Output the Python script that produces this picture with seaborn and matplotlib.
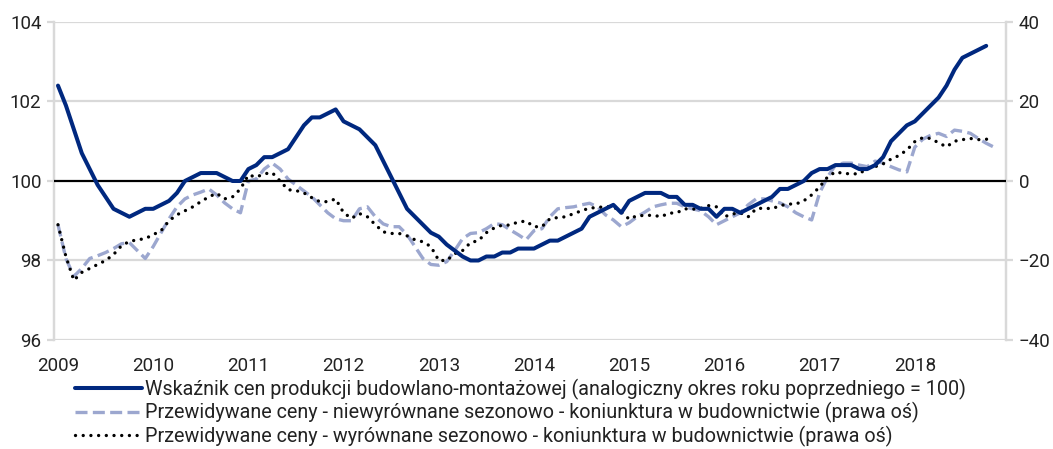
import numpy as np
import pandas as pd
import seaborn as sns
import matplotlib.pyplot as plt
from matplotlib.lines import Line2D

# monthly data, Jan 2009 onwards
wskaznik = [
    102.4, 101.9, 101.3, 100.7, 100.3, 99.9, 99.6, 99.3, 99.2, 99.1, 99.2, 99.3,
    99.3, 99.4, 99.5, 99.7, 100.0, 100.1, 100.2, 100.2, 100.2, 100.1, 100.0, 100.0,
    100.3, 100.4, 100.6, 100.6, 100.7, 100.8, 101.1, 101.4, 101.6, 101.6, 101.7, 101.8,
    101.5, 101.4, 101.3, 101.1, 100.9, 100.5, 100.1, 99.7, 99.3, 99.1, 98.9, 98.7,
    98.6, 98.4, 98.25, 98.1, 98.0, 98.0, 98.1, 98.1, 98.2, 98.2, 98.3, 98.3,
    98.3, 98.4, 98.5, 98.5, 98.6, 98.7, 98.8, 99.1, 99.2, 99.3, 99.4, 99.2,
    99.5, 99.6, 99.7, 99.7, 99.7, 99.6, 99.6, 99.4, 99.4, 99.3, 99.3, 99.1,
    99.3, 99.3, 99.2, 99.3, 99.4, 99.5, 99.6, 99.8, 99.8, 99.9, 100.0, 100.2,
    100.3, 100.3, 100.4, 100.4, 100.4, 100.3, 100.3, 100.4, 100.6, 101.0, 101.2, 101.4,
    101.5, 101.7, 101.9, 102.1, 102.4, 102.8, 103.1, 103.2, 103.3, 103.4,
]
niewyrownane = [
    -11, -19.5, -24, -22, -19.5, -18.8, -18, -17, -15.8, -15.5, -17.5, -19.5,
    -16.5, -13, -9.5, -6.5, -4.5, -3.5, -2.8, -2, -3.5, -5.5, -7, -8,
    0, 0.5, 3, 4.5, 3, 0.5, -1, -2.5, -4, -6, -8, -9.5,
    -10, -10, -7, -6.5, -9, -10.8, -11.5, -11.5, -13.5, -16.5, -19.5, -21,
    -21.2, -20.3, -17.5, -14.5, -13.2, -13, -12, -10.7, -11, -12.3, -13.5, -14.8,
    -12.5, -12, -9, -7, -6.7, -6.5, -6, -5.6, -6.5, -8.5, -9.8, -11.5,
    -10.5, -9, -7.8, -6.5, -6, -5.6, -5.6, -6.5, -7, -7.5, -9, -11,
    -10, -9, -8, -6, -4.5, -4.5, -5, -5.5, -6.5, -8, -9, -9.8,
    -3, 1, 4, 4.5, 4.5, 4, 3.6, 5, 4.5, 3.6, 2.8, 2.3,
    8.5, 10.5, 11.5, 12, 11.2, 12.8, 12.5, 12, 10.7, 9.5, 8.5,
]
wyrownane = [
    -11, -19, -25, -23, -22, -21, -20, -18.5, -16.3, -15.2, -14.8, -14.5,
    -13.5, -12.5, -10, -8.5, -7.5, -6.5, -5.2, -4, -3.1, -4.5, -4, -2,
    1.5, 1, 1.8, 2.1, 0, -2.2, -2.4, -3, -4.2, -5.2, -5.2, -4.5,
    -8, -9.4, -8.2, -9, -11, -12.8, -13.2, -13.2, -13.8, -14.8, -15.3, -16.5,
    -20, -20, -18.3, -17.5, -15.5, -15, -13, -11.8, -11.1, -11.1, -10.3, -10.1,
    -11.5, -11.5, -9.5, -9.2, -9, -8.2, -7.5, -6.8, -6.7, -6.4, -6.5, -7.8,
    -9.6, -8.7, -8.7, -8.6, -9, -8.1, -8, -7, -7.1, -6.9, -6.2, -6.5,
    -9, -8.3, -8, -9, -7, -6.8, -7, -6.2, -5.8, -5.8, -5, -3.5,
    -1.5, 1, 2.3, 1.9, 1.8, 1.8, 3.2, 3.6, 4.3, 5.5, 6.4, 7.8,
    9.9, 10.9, 10.7, 9.6, 8.6, 10, 10.4, 10.7, 10.4, 10.5, 10.7,
]
years = [str(y) for y in range(2009, 2019)]
labels = [
    "Wskaźnik cen produkcji budowlano-montażowej (analogiczny okres roku poprzedniego = 100)",
    "Przewidywane ceny - niewyrównane sezonowo - koniunktura w budownictwie (prawa oś)",
    "Przewidywane ceny - wyrównane sezonowo - koniunktura w budownictwie (prawa oś)",
]

navy = "#00287F"
lightblue = "#9CA7CF"
grid = "#D9D9D9"
txt = "#222222"

df_l = pd.DataFrame({"m": np.arange(len(wskaznik)), "v": wskaznik})
df_r = pd.DataFrame({"m": np.arange(len(niewyrownane)), "a": niewyrownane, "b": wyrownane})

sns.set_theme(style="white")
plt.rcParams["font.family"] = ["Roboto", "DejaVu Sans"]

fig = plt.figure(figsize=(10.53, 4.49), dpi=100)
ax = fig.add_axes([0.0513, 0.2428, 0.9041, 0.7082])
ax2 = ax.twinx()

# right-axis series
sns.lineplot(data=df_r, x="m", y="a", ax=ax2, color=lightblue, linewidth=2.4,
             linestyle=(0, (3.6, 1.6)), dash_capstyle="butt")
sns.lineplot(data=df_r, x="m", y="b", ax=ax2, color="black", linewidth=2.4,
             linestyle=(0, (0.01, 2.3)), dash_capstyle="round")

# left-axis series
sns.lineplot(data=df_l, x="m", y="v", ax=ax, color=navy, linewidth=2.9, zorder=5)
ax.axhline(100, color="black", linewidth=1.6, zorder=3)

ax.set_zorder(ax2.get_zorder() + 1)
ax.patch.set_visible(False)

ax.set_xlim(-0.5, 119.5)
ax.set_ylim(96, 104)
ax2.set_ylim(-40, 40)
ax.set_yticks([96, 98, 100, 102, 104])
ax2.set_yticks([-40, -20, 0, 20, 40])
ax.set_xticks(np.arange(0, 120, 12))
ax.set_xticklabels(years)

for y in [96, 98, 102, 104]:
    ax2.axhline((y - 100) * 10, color=grid, linewidth=1.6, zorder=0)

for a in (ax, ax2):
    a.set_xlabel("")
    a.set_ylabel("")
    for s in ["top", "bottom"]:
        a.spines[s].set_visible(False)
    a.spines["left"].set_color(grid)
    a.spines["right"].set_color(grid)
    a.spines["left"].set_linewidth(1.6)
    a.spines["right"].set_linewidth(1.6)

ax.tick_params(axis="y", which="both", left=True, length=5, width=1.6, color=grid,
               labelsize=13.5, labelcolor=txt, pad=4)
ax2.tick_params(axis="y", which="both", right=True, length=5, width=1.6, color=grid,
                labelsize=13.5, labelcolor=txt, pad=4)
ax.tick_params(axis="x", bottom=False, labelsize=13.5, labelcolor=txt, pad=6)

handles = [
    Line2D([], [], color=navy, linewidth=2.9),
    Line2D([], [], color=lightblue, linewidth=2.4, linestyle=(0, (3.6, 1.6))),
    Line2D([], [], color="black", linewidth=2.4, linestyle=(0, (0.01, 2.3)),
           dash_capstyle="round"),
]
fig.legend(handles, labels, loc="upper left", bbox_to_anchor=(0.062, 0.178),
           frameon=False, fontsize=14.2, handlelength=3.4, handletextpad=0.15,
           labelspacing=0.12, borderpad=0, labelcolor=txt)

fig.savefig("out.png", dpi=100)
